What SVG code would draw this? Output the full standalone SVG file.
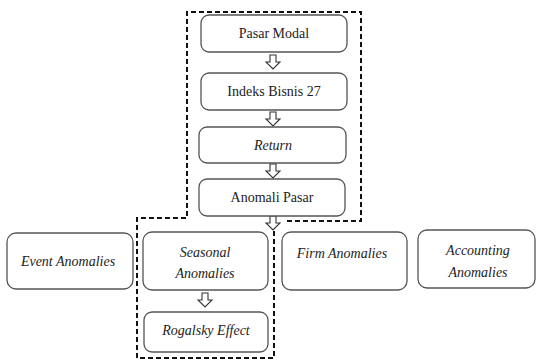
<svg xmlns="http://www.w3.org/2000/svg" width="537" height="361" viewBox="0 0 537 361">
<style>
.box{fill:#fff;stroke:#555;stroke-width:1.3}
.t{font-family:'Liberation Serif','DejaVu Serif',serif;font-size:14px;fill:#222;text-anchor:middle}
.i{font-style:italic}
.arr{fill:#fff;stroke:#333;stroke-width:1.1;stroke-linejoin:miter}
.dash{fill:none;stroke:#111;stroke-width:2;stroke-dasharray:5 3}
</style>
<defs>
<path id="da" d="M-3,0 H3 V7 H7 L0,14 L-7,7 H-3 Z"/>
</defs>
<rect width="537" height="361" fill="#fff"/>
<g id="connectors">
<path class="dash" d="M287,221 H361 V12 H187 V218 H137 V358 H274 V229"/>
<use href="#da" class="arr" x="273" y="55"/>
<use href="#da" class="arr" x="273" y="112"/>
<use href="#da" class="arr" x="273" y="164"/>
<use href="#da" class="arr" x="273" y="216"/>
<use href="#da" class="arr" x="205" y="293"/>
</g>
<g id="pasar-modal"><rect class="box" x="201" y="15" width="146" height="37" rx="8"/><text class="t" x="274" y="38">Pasar Modal</text></g>
<g id="indeks-bisnis"><rect class="box" x="201" y="73" width="146" height="37" rx="8"/><text class="t" x="274" y="96">Indeks Bisnis 27</text></g>
<g id="return"><rect class="box" x="199" y="127" width="147" height="36" rx="8"/><text class="t i" x="273" y="150">Return</text></g>
<g id="anomali-pasar"><rect class="box" x="199" y="179" width="146" height="37" rx="8"/><text class="t" x="272" y="202">Anomali Pasar</text></g>
<g id="event-anomalies"><rect class="box" x="7" y="233" width="126" height="56" rx="9"/><text class="t i" x="68" y="266">Event Anomalies</text></g>
<g id="seasonal-anomalies"><rect class="box" x="143" y="232" width="125" height="58" rx="9"/><text class="t i" x="205" y="257">Seasonal</text><text class="t i" x="205" y="278">Anomalies</text></g>
<g id="rogalsky-effect"><rect class="box" x="144" y="312" width="124" height="40" rx="8"/><text class="t i" x="206" y="335">Rogalsky Effect</text></g>
<g id="firm-anomalies"><rect class="box" x="282" y="232" width="125" height="58" rx="9"/><text class="t i" x="342" y="258">Firm Anomalies</text></g>
<g id="accounting-anomalies"><rect class="box" x="418" y="230" width="117" height="58" rx="9"/><text class="t i" x="478" y="255">Accounting</text><text class="t i" x="478" y="277">Anomalies</text></g>
</svg>
